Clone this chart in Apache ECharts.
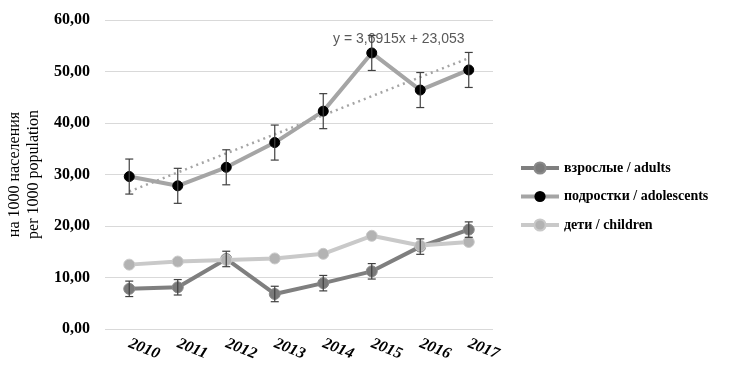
<!DOCTYPE html>
<html><head><meta charset="utf-8">
<script src="https://cdn.jsdelivr.net/npm/echarts@6/dist/echarts.min.js"></script>
<style>html,body{margin:0;padding:0;background:#fff}#c{width:729px;height:365px}</style>
</head><body><div id="c"></div>
<script>
var categories = ['2010','2011','2012','2013','2014','2015','2016','2017'];
var adults = [7.8, 8.1, 13.6, 6.8, 8.9, 11.2, 16.0, 19.3];
var adultsErr = [1.5, 1.5, 1.5, 1.5, 1.5, 1.5, 1.5, 1.5];
var adolescents = [29.6, 27.8, 31.4, 36.2, 42.3, 53.6, 46.4, 50.3];
var adolescentsErr = [3.4, 3.4, 3.4, 3.4, 3.4, 3.4, 3.4, 3.4];
var children = [12.5, 13.1, 13.4, 13.7, 14.6, 18.1, 16.2, 16.9];
var trend = [26.7, null, null, null, null, null, null, 52.6];
var trendLabel = 'y = 3,6915x + 23,053';
var yTicks = {min: 0, max: 60, interval: 10};

function errSeries(vals, errs) {
  var d = vals.map(function(v, i){ return [i, v - errs[i], v + errs[i]]; });
  return {
    type: 'custom', z: 5, silent: true,
    data: d,
    renderItem: function(params, api) {
      var x = api.value(0);
      var lo = api.coord([x, api.value(1)]);
      var hi = api.coord([x, api.value(2)]);
      var w = 4;
      var st = {stroke: '#404040', lineWidth: 1.2};
      return {type: 'group', children: [
        {type: 'line', shape: {x1: lo[0], y1: lo[1], x2: hi[0], y2: hi[1]}, style: st},
        {type: 'line', shape: {x1: lo[0]-w, y1: lo[1], x2: lo[0]+w, y2: lo[1]}, style: st},
        {type: 'line', shape: {x1: hi[0]-w, y1: hi[1], x2: hi[0]+w, y2: hi[1]}, style: st}
      ]};
    }
  };
}

var chart = echarts.init(document.getElementById('c'));
chart.setOption({
  animation: false,
  grid: {left: 105, right: 236, top: 20, bottom: 36, containLabel: false, outerBoundsMode: 'none'},
  legend: {
    orient: 'vertical', left: 514, top: 156, itemWidth: 38, itemHeight: 14, itemGap: 14.5,
    lineStyle: {width: 4},
    data: ['взрослые / adults', 'подростки / adolescents', 'дети / children'],
    textStyle: {fontFamily: 'Liberation Serif', fontWeight: 'bold', fontSize: 14, color: '#000'}
  },
  xAxis: {
    type: 'category', data: categories, boundaryGap: true,
    axisLine: {show: false}, axisTick: {show: false},
    axisLabel: {rotate: -22, margin: 14, fontFamily: 'Liberation Serif', fontWeight: 'bold', fontStyle: 'italic', fontSize: 16, color: '#000'}
  },
  yAxis: {
    type: 'value', min: yTicks.min, max: yTicks.max, interval: yTicks.interval,
    name: 'на 1000 населения\nper 1000 population', nameLocation: 'middle', nameGap: 57, nameRotate: 90,
    nameTextStyle: {fontFamily: 'Liberation Serif', fontSize: 16, color: '#000', lineHeight: 19},
    axisLine: {show: false}, axisTick: {show: false},
    splitLine: {lineStyle: {color: '#d9d9d9', width: 1.2}},
    axisLabel: {margin: 15, fontFamily: 'Liberation Serif', fontWeight: 'bold', fontSize: 16, color: '#000',
      formatter: function(v){ return v.toFixed(2).replace('.', ','); }}
  },
  graphic: [{type: 'text', left: 333, top: 32, style: {text: trendLabel, fontFamily: 'Liberation Sans', fontSize: 14, fill: '#595959'}}],
  series: [
    {name: 'trend', type: 'line', data: trend, connectNulls: true, symbol: 'none', z: 1,
      lineStyle: {color: '#a5a5a5', width: 2.5, type: [2, 4]}, silent: true},
    {name: 'взрослые / adults', type: 'line', data: adults, z: 2, symbol: 'circle', symbolSize: 11,
      lineStyle: {color: '#7f7f7f', width: 4}, itemStyle: {color: '#7a7a7a', borderColor: '#8a8a8a', borderWidth: 1}},
    {name: 'подростки / adolescents', type: 'line', data: adolescents, z: 3, symbol: 'circle', symbolSize: 10,
      lineStyle: {color: '#a5a5a5', width: 4}, itemStyle: {color: '#000', borderColor: '#000'}},
    {name: 'дети / children', type: 'line', data: children, z: 4, symbol: 'circle', symbolSize: 11,
      lineStyle: {color: '#c9c9c9', width: 4}, itemStyle: {color: '#b3b3b3', borderColor: '#c9c9c9', borderWidth: 1}},
    errSeries(adults, adultsErr),
    errSeries(adolescents, adolescentsErr)
  ]
});
</script></body></html>
